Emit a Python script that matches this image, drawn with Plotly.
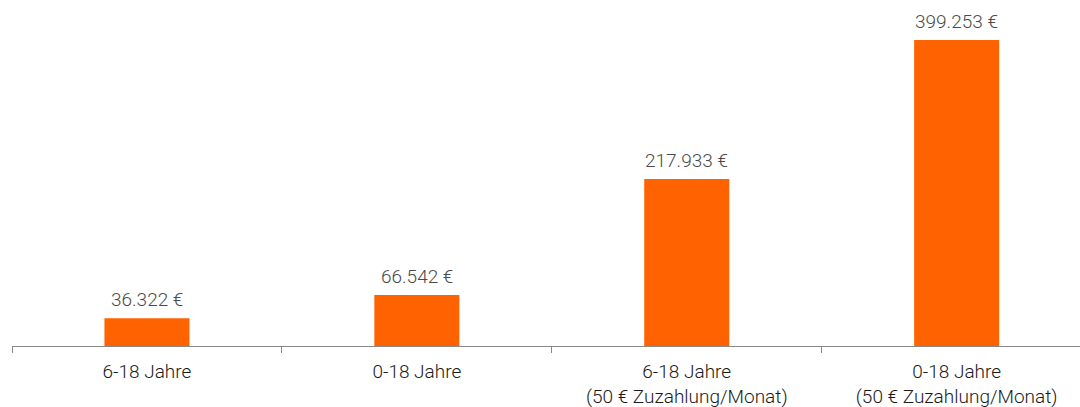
import plotly.graph_objects as go

categories = ["6-18 Jahre", "0-18 Jahre",
              "6-18 Jahre<br>(50 € Zuzahlung/Monat)",
              "0-18 Jahre<br>(50 € Zuzahlung/Monat)"]
values = [36322, 66542, 217933, 399253]
labels = [f"{v:,}".replace(",", ".") + " €" for v in values]

FONT = "Roboto"

fig = go.Figure(go.Bar(
    x=categories, y=values,
    marker=dict(color="#FF6200", line=dict(width=0)),
    cliponaxis=False, hoverinfo="skip",
))

for c, v, t in zip(categories, values, labels):
    fig.add_annotation(x=c, y=v, text=t, showarrow=False, yanchor="bottom",
                       yshift=5, font=dict(family=FONT, size=19, color="#4a4a4a",
                                           weight=300))

fig.update_layout(
    width=1080, height=407,
    margin=dict(l=12, r=0, t=10, b=61),
    paper_bgcolor="white", plot_bgcolor="white",
    bargap=0.685, showlegend=False,
    font=dict(family=FONT, size=19, color="#1a1a1a"),
    xaxis=dict(range=[-0.5, 3.457], tickson="boundaries", ticks="outside",
               ticklen=6, tickcolor="#888888", showline=True, linecolor="#888888",
               linewidth=1, showgrid=False, fixedrange=True, automargin=False,
               ticklabelstandoff=8,
               tickfont=dict(family=FONT, size=19, color="#1a1a1a", weight=300)),
    yaxis=dict(range=[0, 438400], visible=False, showgrid=False, fixedrange=True,
               automargin=False),
)

fig.write_html("out.html", config={"displayModeBar": False},
               post_script="document.body.style.margin='0';")
